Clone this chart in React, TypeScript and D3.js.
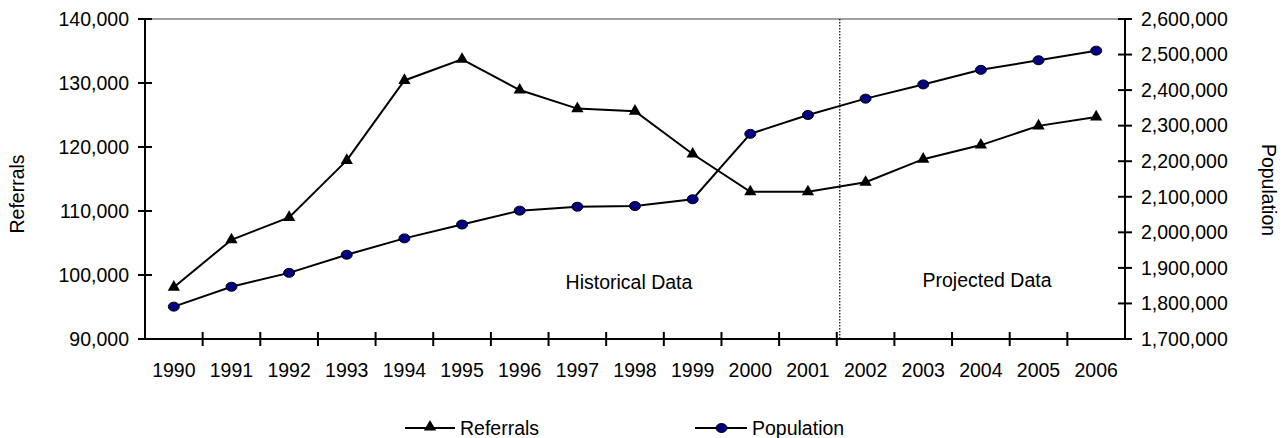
import React from "react";
import * as d3 from "d3";

const years = ["1990","1991","1992","1993","1994","1995","1996","1997","1998","1999","2000","2001","2002","2003","2004","2005","2006"];
const referrals = [98100,105500,109000,117900,130400,133700,128900,126000,125600,118900,113000,113000,114500,118100,120300,123300,124700];
const population = [1791000,1847000,1886000,1937000,1983000,2022000,2061000,2072000,2074000,2093000,2277000,2330000,2376000,2416000,2457000,2484000,2511000];
const leftTicks = [90000,100000,110000,120000,130000,140000];
const rightTicks = [1700000,1800000,1900000,2000000,2100000,2200000,2300000,2400000,2500000,2600000];
const dividerAfterIndex = 12; // between 2001 and 2002

const W = 1286, H = 438;
const L = 145, R = 1125, T = 19, B = 339;
const FONT = "'Liberation Sans', Arial, sans-serif";
const FS = 19.5;

export default function App() {
  const x = d3.scaleBand<string>().domain(years).range([L, R]).padding(0);
  const cx = (y: string) => (x(y) as number) + x.bandwidth() / 2;
  const yL = d3.scaleLinear().domain([90000, 140000]).range([B, T]);
  const yR = d3.scaleLinear().domain([1700000, 2600000]).range([B, T]);
  const fmt = d3.format(",");

  const lineRef = d3.line<number>().x((_, i) => cx(years[i])).y((d) => yL(d))(referrals) || "";
  const linePop = d3.line<number>().x((_, i) => cx(years[i])).y((d) => yR(d))(population) || "";
  const tri = d3.symbol().type(d3.symbolTriangle).size(65)() || "";

  const divX = L + x.bandwidth() * dividerAfterIndex + 3;

  return (
    <svg width={W} height={H} style={{ position: "absolute", left: 0, top: 0, background: "#fff" }} fontFamily={FONT} fontSize={FS}>
      <rect x={0} y={0} width={W} height={H} fill="#fff" />
      <line x1={L} x2={R} y1={T} y2={T} stroke="#808080" strokeWidth={1.5} />
      <line x1={divX} x2={divX} y1={T} y2={B} stroke="#000" strokeWidth={1.2} strokeDasharray="1.5,1.5" />
      <line x1={L} x2={L} y1={T} y2={B} stroke="#000" strokeWidth={2} />
      <line x1={R} x2={R} y1={T} y2={B} stroke="#000" strokeWidth={2} />
      <line x1={L} x2={R} y1={B} y2={B} stroke="#000" strokeWidth={2} />
      {leftTicks.map((t) => (
        <g key={"l" + t}>
          <line x1={L - 7} x2={L + 7} y1={yL(t)} y2={yL(t)} stroke="#000" strokeWidth={2} />
          <text x={L - 16} y={yL(t)} dy="0.35em" textAnchor="end" fill="#000">{fmt(t)}</text>
        </g>
      ))}
      {rightTicks.map((t) => (
        <g key={"r" + t}>
          <line x1={R - 7} x2={R + 7} y1={yR(t)} y2={yR(t)} stroke="#000" strokeWidth={2} />
          <text x={R + 16} y={yR(t)} dy="0.35em" textAnchor="start" fill="#000">{fmt(t)}</text>
        </g>
      ))}
      {years.map((yr, i) => (
        <g key={yr}>
          {i > 0 && <line x1={x(yr) as number} x2={x(yr) as number} y1={B - 7} y2={B + 7} stroke="#000" strokeWidth={2} />}
          <text x={cx(yr)} y={377} textAnchor="middle" fill="#000">{yr}</text>
        </g>
      ))}
      <text transform={`translate(24,${194}) rotate(-90)`} textAnchor="middle" fill="#000">Referrals</text>
      <text transform={`translate(1262,${190}) rotate(90)`} textAnchor="middle" fill="#000">Population</text>
      <text x={629} y={289} textAnchor="middle" fill="#000">Historical Data</text>
      <text x={987} y={287} textAnchor="middle" fill="#000">Projected Data</text>
      <path d={lineRef} fill="none" stroke="#000" strokeWidth={2} />
      <path d={linePop} fill="none" stroke="#000" strokeWidth={2} />
      {referrals.map((v, i) => (
        <path key={"t" + i} d={tri} transform={`translate(${cx(years[i])},${yL(v)})`} fill="#000" />
      ))}
      {population.map((v, i) => (
        <ellipse key={"c" + i} cx={cx(years[i])} cy={yR(v)} rx={5.5} ry={4.5} fill="#000080" stroke="#000" strokeWidth={1} />
      ))}
      <line x1={405} x2={455} y1={428} y2={428} stroke="#000" strokeWidth={2} />
      <path d={tri} transform={`translate(430,427)`} fill="#000" />
      <text x={460} y={428} dy="0.35em" fill="#000">Referrals</text>
      <line x1={695} x2={747} y1={428} y2={428} stroke="#000" strokeWidth={2} />
      <ellipse cx={721.5} cy={428} rx={5.5} ry={4.5} fill="#000080" stroke="#000" strokeWidth={1} />
      <text x={752} y={428} dy="0.35em" fill="#000">Population</text>
    </svg>
  );
}
